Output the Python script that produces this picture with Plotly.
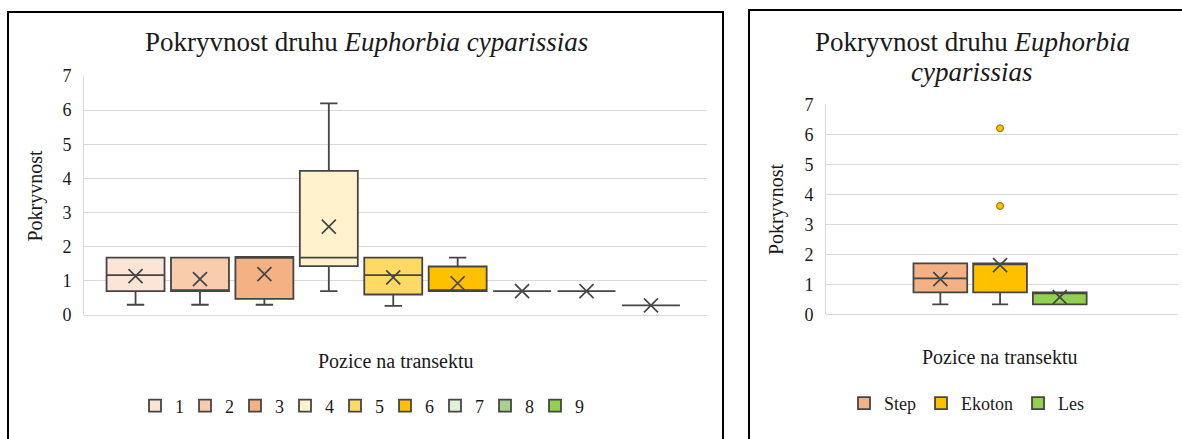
import plotly.graph_objects as go

W, H = 1182, 439

# ---------------- data ----------------
pos_names = ["1", "2", "3", "4", "5", "6", "7", "8", "9"]
pos_colors = ["#FBE5D6", "#F8CBAD", "#F4B183", "#FFF2CC", "#FFD966",
              "#FFC000", "#E2F0D9", "#A9D18E", "#92D050"]
pos_min = [0.3, 0.3, 0.3, 0.7, 0.27, 0.7, 0.7, 0.7, 0.28]
pos_q1 = [0.7, 0.7, 0.47, 1.43, 0.6, 0.7, 0.7, 0.7, 0.28]
pos_median = [1.17, 0.7, 1.7, 1.68, 1.17, 0.7, 0.7, 0.7, 0.28]
pos_q3 = [1.68, 1.68, 1.7, 4.22, 1.68, 1.42, 0.7, 0.7, 0.28]
pos_max = [1.68, 1.68, 1.7, 6.2, 1.68, 1.68, 0.7, 0.7, 0.28]
pos_mean = [1.14, 1.05, 1.2, 2.59, 1.1, 0.93, 0.7, 0.7, 0.28]

zone_names = ["Step", "Ekoton", "Les"]
zone_colors = ["#F4B183", "#FFC000", "#92D050"]
zone_min = [0.33, 0.33, 0.33]
zone_q1 = [0.73, 0.73, 0.33]
zone_median = [1.2, 1.7, 0.73]
zone_q3 = [1.7, 1.7, 0.73]
zone_max = [1.7, 1.7, 0.73]
zone_mean = [1.17, 1.64, 0.57]
outlier_zone = ["Ekoton", "Ekoton"]
outlier_vals = [6.2, 3.61]

y_ticks = [0, 1, 2, 3, 4, 5, 6, 7]

title_main = "Pokryvnost druhu "
title_species = "Euphorbia cyparissias"
y_title = "Pokryvnost"
x_title = "Pozice na transektu"

# ---------------- helpers ----------------
def px(x):
    return x / W


def py(y):
    return 1 - y / H


FONT = "Liberation Serif"
LINE = "#454545"
GRID = "#D9D9D9"
TXT = "#1a1a1a"

fig = go.Figure()

# left panel boxes
for i, name in enumerate(pos_names):
    fig.add_trace(go.Box(
        name=name, x=[i + 1],
        q1=[pos_q1[i]], median=[pos_median[i]], q3=[pos_q3[i]],
        lowerfence=[pos_min[i]], upperfence=[pos_max[i]],
        width=0.9, whiskerwidth=0.3,
        fillcolor=pos_colors[i],
        line=dict(color=LINE, width=1.8),
        xaxis="x", yaxis="y", legend="legend",
        boxpoints=False, hoverinfo="skip",
    ))

fig.add_trace(go.Scatter(
    x=[i + 1 for i in range(len(pos_names))], y=pos_mean,
    mode="markers", showlegend=False, hoverinfo="skip",
    marker=dict(symbol="x-thin", size=14, line=dict(color=LINE, width=1.7)),
    xaxis="x", yaxis="y",
))

# right panel boxes
for i, name in enumerate(zone_names):
    fig.add_trace(go.Box(
        name=name, x=[i + 1],
        q1=[zone_q1[i]], median=[zone_median[i]], q3=[zone_q3[i]],
        lowerfence=[zone_min[i]], upperfence=[zone_max[i]],
        width=0.9, whiskerwidth=0.3,
        fillcolor=zone_colors[i],
        line=dict(color=LINE, width=1.8),
        xaxis="x2", yaxis="y2", legend="legend2",
        boxpoints=False, hoverinfo="skip",
    ))

fig.add_trace(go.Scatter(
    x=[zone_names.index(z) + 1 for z in outlier_zone], y=outlier_vals,
    mode="markers", showlegend=False, hoverinfo="skip",
    marker=dict(symbol="circle", size=7, color=zone_colors[1],
                line=dict(color="#8A6A00", width=1)),
    xaxis="x2", yaxis="y2",
))

fig.add_trace(go.Scatter(
    x=[i + 1 for i in range(len(zone_names))], y=zone_mean,
    mode="markers", showlegend=False, hoverinfo="skip",
    marker=dict(symbol="x-thin", size=14, line=dict(color=LINE, width=1.7)),
    xaxis="x2", yaxis="y2",
))

yaxis_common = dict(
    range=[0, 7], tickvals=y_ticks, showgrid=True, gridcolor=GRID, gridwidth=1,
    zeroline=True, zerolinecolor=GRID, zerolinewidth=1,
    showline=True, linecolor=GRID, linewidth=1,
    ticks="", ticklabelstandoff=8, automargin=False,
    tickfont=dict(family=FONT, size=18, color=TXT),
    fixedrange=True,
)
xaxis_common = dict(showgrid=False, zeroline=False, showticklabels=False,
                    showline=False, ticks="", fixedrange=True, automargin=False)

fig.update_layout(
    width=W, height=H,
    margin=dict(l=0, r=0, t=0, b=0, autoexpand=False),
    paper_bgcolor="white", plot_bgcolor="white",
    font=dict(family=FONT, color=TXT),
    xaxis=dict(domain=[px(84), px(707)], range=[0.2, 9.87], anchor="y", **xaxis_common),
    yaxis=dict(domain=[py(315), py(76)], anchor="x", **yaxis_common),
    xaxis2=dict(domain=[px(826), px(1178)], range=[-0.915, 4.98], anchor="y2", **xaxis_common),
    yaxis2=dict(domain=[py(314.3), py(104.3)], anchor="x2", **yaxis_common),
    legend=dict(orientation="h", x=px(360), y=py(406), xanchor="center", yanchor="middle",
                entrywidth=5, entrywidthmode="pixels",
                font=dict(family=FONT, size=18, color=TXT),
                bgcolor="rgba(0,0,0,0)", itemclick=False, itemdoubleclick=False),
    legend2=dict(orientation="h", x=px(967), y=py(403.5), xanchor="center", yanchor="middle",
                 font=dict(family=FONT, size=18, color=TXT),
                 bgcolor="rgba(0,0,0,0)", itemclick=False, itemdoubleclick=False),
    boxmode="overlay",
    showlegend=True,
)

# panel borders
fig.add_shape(type="rect", xref="paper", yref="paper",
              x0=px(8), x1=px(723), y0=py(460), y1=py(12),
              line=dict(color="#000000", width=2), fillcolor="rgba(0,0,0,0)", layer="above")
fig.add_shape(type="rect", xref="paper", yref="paper",
              x0=px(749), x1=px(1200), y0=py(460), y1=py(10),
              line=dict(color="#000000", width=2), fillcolor="rgba(0,0,0,0)", layer="above")

ann = []
# left title
ann.append(dict(text=title_main + "<i>" + title_species + "</i>", x=px(366.5), y=py(42),
                font=dict(family=FONT, size=27, color=TXT)))
# right title (wrapped)
sp = title_species.split(" ")
ann.append(dict(text=title_main + "<i>" + sp[0] + "</i>", x=px(972.5), y=py(42),
                font=dict(family=FONT, size=27, color=TXT)))
ann.append(dict(text="<i>" + sp[1] + "</i>", x=px(971.5), y=py(72),
                font=dict(family=FONT, size=27, color=TXT)))
# axis titles
ann.append(dict(text=y_title, x=px(35), y=py(195.5), textangle=-90,
                font=dict(family=FONT, size=20, color=TXT)))
ann.append(dict(text=y_title, x=px(776), y=py(209), textangle=-90,
                font=dict(family=FONT, size=20, color=TXT)))
ann.append(dict(text=x_title, x=px(396), y=py(361),
                font=dict(family=FONT, size=20, color=TXT)))
ann.append(dict(text=x_title, x=px(1000), y=py(357),
                font=dict(family=FONT, size=20, color=TXT)))

for a in ann:
    a.update(xref="paper", yref="paper", xanchor="center", yanchor="middle", showarrow=False)
    fig.add_annotation(**a)

post = ("document.documentElement.style.margin='0';"
        "document.body.style.margin='0';"
        "document.body.style.padding='0';"
        "document.body.style.overflow='hidden';")

fig.write_html("out.html", post_script=post, config={"displayModeBar": False})
